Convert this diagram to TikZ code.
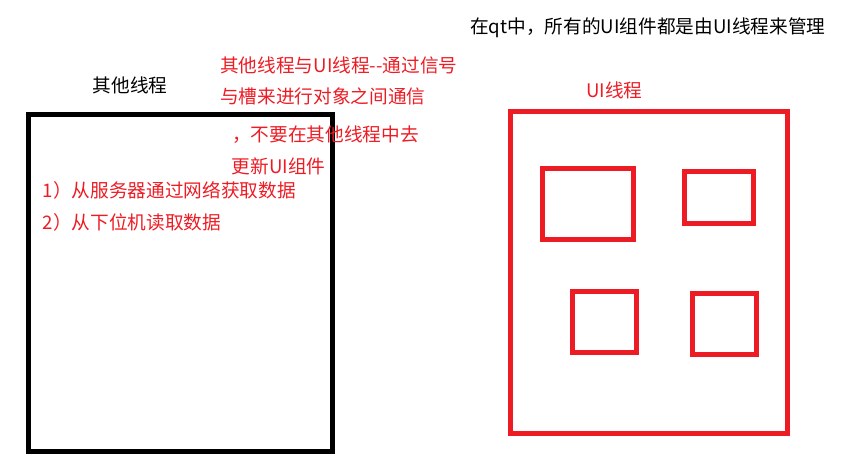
\documentclass[tikz,border=0pt]{standalone}
\usepackage{fontspec}
\newfontfamily\cjk{Noto Sans CJK SC}
\definecolor{pred}{HTML}{ED1C24}
\tikzset{
  frame/.style={line width=3.75pt, draw},
  lbl/.style={anchor=west, inner sep=0pt, font=\cjk\fontsize{14pt}{16pt}\selectfont},
}
\begin{document}
\begin{tikzpicture}[x=0.75pt,y=-0.75pt]
\useasboundingbox (0,0) rectangle (852,465);
% boxes
\draw[frame, black] (28.5,114.2) rectangle (332.2,451.2);
\draw[frame, pred] (510.5,111.5) rectangle (787.5,433.3);
\draw[frame, pred] (542.5,168.5) rectangle (633.3,239.3);
\draw[frame, pred] (684.5,171.5) rectangle (753.3,223.3);
\draw[frame, pred] (572.5,291.5) rectangle (636.3,352.3);
\draw[frame, pred] (692.5,293.5) rectangle (756.3,354.3);
% texts
\node[lbl] (title) at (470,28) {在qt中，所有的UI组件都是由UI线程来管理};
\node[lbl] (other) at (92.5,85) {其他线程};
\node[lbl, text=pred] (uithr) at (586,90) {UI线程};
\node[lbl, text=pred] (n1) at (220,65) {其他线程与UI线程-{}-通过信号};
\node[lbl, text=pred] (n2) at (220,96.7) {与槽来进行对象之间通信};
\node[lbl, text=pred] (n3) at (232,135) {，不要在其他线程中去};
\node[lbl, text=pred] (n4) at (231.5,166.7) {更新UI组件};
\node[lbl, text=pred] (i1) at (42.5,190) {1）从服务器通过网络获取数据};
\node[lbl, text=pred] (i2) at (42.5,222.3) {2）从下位机读取数据};
\end{tikzpicture}
\end{document}
